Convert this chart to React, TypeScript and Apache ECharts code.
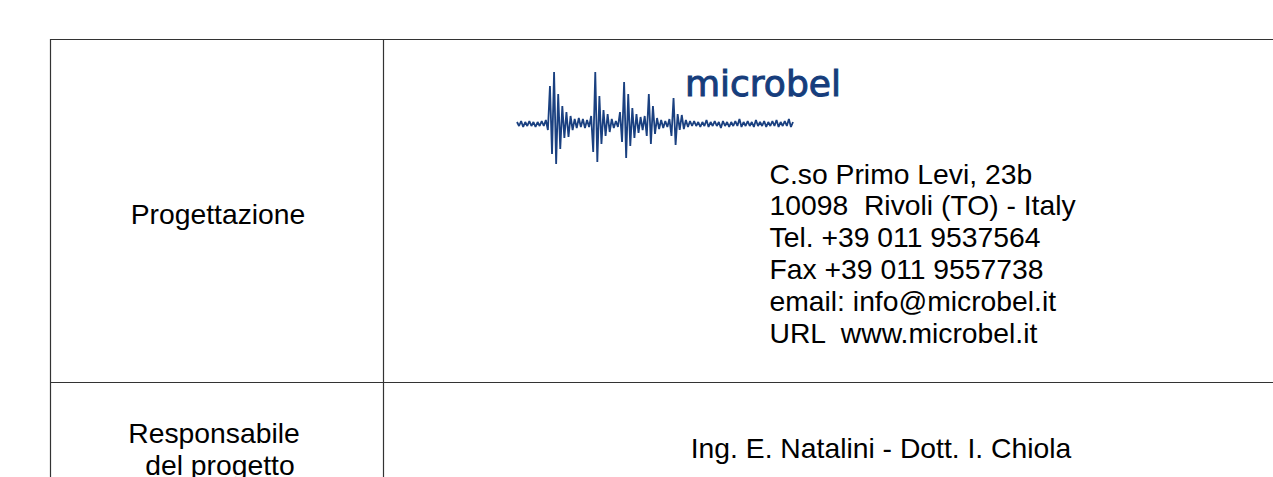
import React, { useEffect, useRef } from "react";
import * as echarts from "echarts";

// Table texts
const leftLabels = ["Progettazione", "Responsabile", " del progetto"];
const addressLines = [
  "C.so Primo Levi, 23b",
  "10098  Rivoli (TO) - Italy",
  "Tel. +39 011 9537564",
  "Fax +39 011 9557738",
  "email: info@microbel.it",
  "URL  www.microbel.it",
];
const responsibleText = "Ing. E. Natalini - Dott. I. Chiola";
const logoText = "microbel";

// Logo waveform samples (amplitude)
const waveValues = [
  2, -2, 3, -3, 2, -2, 3, -2, 2, -3, 2, -2, 3, -2, 4, -6,
  38, -30, 52, -40, 30, -25, 18, -14, 12, -13, 8, -6, 5, -4, 6, -3, 5, -4, 4, -3,
  8, -28, 52, -38, 28, -20, 14, -12, 10, -8, 5, -4, 3, -3,
  12, -18, 42, -34, 30, -22, 16, -14, 10, -9, 7, -6, 8, -12,
  30, -20, 18, -10, 6, -5, 4, -4, 3, -3, 5, -12, 26, -21, 10, -6, 9, -5, 4, -3, 3,
  -2, 3, -2, 2, -3, 2, -2, 4, -3, 2, -2, 3, -2, 2, -4, 3, -2, 2, -3, 2, -2, 3, -2,
  5, -3, 2, -2, 3, -2, 2, -3, 4, -2, 2, -2, 3, -3, 2, -2, 3, -2, 4, -3, 2, -2, 3, -2, 5, -3, 2,
];

export default function App() {
  const ref = useRef<HTMLDivElement>(null);
  useEffect(() => {
    if (!ref.current) return;
    const chart = echarts.init(ref.current, undefined, { renderer: "svg" });
    const font = "'Liberation Sans', Arial, sans-serif";
    const lineColor = "#333333";
    const textColor = "#000000";
    const fs = 28.3;
    const n = waveValues.length;
    const graphics: any[] = [
      { type: "line", shape: { x1: 50, y1: 39.5, x2: 1273, y2: 39.5 }, style: { stroke: lineColor, lineWidth: 1.2 } },
      { type: "line", shape: { x1: 50.5, y1: 39, x2: 50.5, y2: 477 }, style: { stroke: lineColor, lineWidth: 1.2 } },
      { type: "line", shape: { x1: 383.5, y1: 39, x2: 383.5, y2: 477 }, style: { stroke: lineColor, lineWidth: 1.2 } },
      { type: "line", shape: { x1: 50, y1: 382.5, x2: 1273, y2: 382.5 }, style: { stroke: lineColor, lineWidth: 1.2 } },
    ];
    const leftPos = [
      [218, 214],
      [214, 433],
      [216, 464.5],
    ];
    leftLabels.forEach((t, i) => {
      graphics.push({
        type: "text",
        x: leftPos[i][0],
        y: leftPos[i][1],
        style: { text: t, fontSize: fs, fontFamily: font, fill: textColor, align: "center", verticalAlign: "middle", textAlign: "center", textVerticalAlign: "middle" },
      });
    });
    addressLines.forEach((t, i) => {
      graphics.push({
        type: "text",
        x: 769.5,
        y: 173.5 + 31.8 * i,
        style: { text: t, fontSize: fs, fontFamily: font, fill: textColor, align: "left", verticalAlign: "middle", textAlign: "left", textVerticalAlign: "middle" },
      });
    });
    graphics.push({
      type: "text",
      x: 881,
      y: 447.5,
      style: { text: responsibleText, fontSize: fs, fontFamily: font, fill: textColor, align: "center", verticalAlign: "middle", textAlign: "center", textVerticalAlign: "middle" },
    });
    graphics.push({
      type: "text",
      x: 685,
      y: 101,
      style: { text: logoText, fontSize: 36, fontFamily: "'DejaVu Sans', sans-serif", fill: "#163d7c", stroke: "#163d7c", lineWidth: 1, align: "left", verticalAlign: "bottom", textAlign: "left", textVerticalAlign: "bottom" },
    });

    chart.setOption({
      animation: false,
      grid: { left: 517, top: 64, width: 276, height: 120, containLabel: false },
      xAxis: { type: "value", min: 0, max: n - 1, show: false },
      yAxis: { type: "value", min: -60, max: 60, show: false },
      series: [
        {
          type: "line",
          data: waveValues.map((v, i) => [i, v]),
          symbol: "none",
          lineStyle: { color: "#1a4080", width: 1.8 },
          silent: true,
        },
      ],
      graphic: graphics,
    });
    return () => chart.dispose();
  }, []);
  return <div ref={ref} style={{ position: "absolute", left: 0, top: 0, width: 1273, height: 477, background: "#fff" }} />;
}
